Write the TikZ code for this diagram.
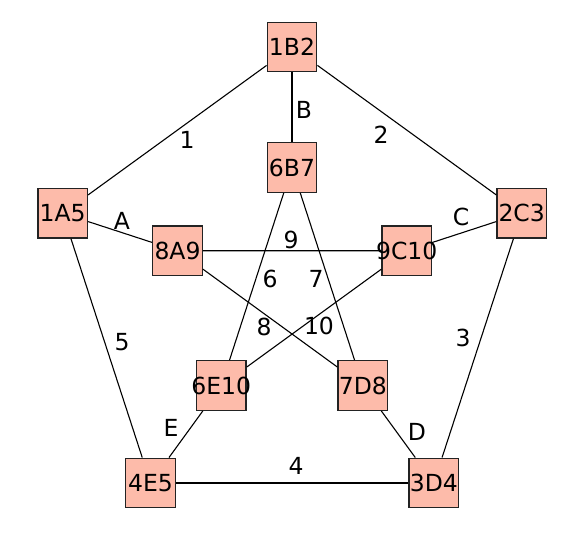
\documentclass[tikz,border=0pt]{standalone}
\usepackage{fontspec}
\setmainfont{DejaVu Sans}
\definecolor{boxfill}{RGB}{253,187,170}
\definecolor{boxline}{RGB}{35,35,35}
\begin{document}
\begin{tikzpicture}[x=1pt,y=1pt,
  vbox/.style={draw=boxline,fill=boxfill,line width=1.4pt,minimum size=49.5pt,inner sep=0pt},
  elab/.style={font=\fontsize{23.5}{23.5}\selectfont,inner sep=0pt},
  edge/.style={draw=black,line width=1.1pt}]
\useasboundingbox (0,0) rectangle (575,543);
% nodes (y = 543 - pixel y)
\node[vbox] (n1B2) at (292,496) {};
\node[vbox] (n6B7) at (292,375.5) {};
\node[vbox] (n1A5) at (62.7,329.7) {};
\node[vbox] (n2C3) at (521.7,329.7) {};
\node[vbox] (n8A9) at (177.5,292.3) {};
\node[vbox] (n9C10) at (406.7,292.2) {};
\node[vbox] (n6E10) at (221.3,157.5) {};
\node[vbox] (n7D8) at (362.8,157.5) {};
\node[vbox] (n4E5) at (150.5,60) {};
\node[vbox] (n3D4) at (433.8,60) {};
% edges
\draw[edge] (n1B2) -- (n1A5);
\draw[edge] (n1B2) -- (n2C3);
\draw[edge] (n1B2) -- (n6B7);
\draw[edge] (n1A5) -- (n8A9);
\draw[edge] (n2C3) -- (n9C10);
\draw[edge] (n8A9) -- (n9C10);
\draw[edge] (n6B7) -- (n6E10);
\draw[edge] (n6B7) -- (n7D8);
\draw[edge] (n8A9) -- (n7D8);
\draw[edge] (n9C10) -- (n6E10);
\draw[edge] (n1A5) -- (n4E5);
\draw[edge] (n2C3) -- (n3D4);
\draw[edge] (n4E5) -- (n6E10);
\draw[edge] (n3D4) -- (n7D8);
\draw[edge] (n4E5) -- (n3D4);
% node texts (on top of edges)
\node[elab] (t1B2) at (n1B2) {1B2};
\node[elab] (t6B7) at (n6B7) {6B7};
\node[elab] (t1A5) at (n1A5) {1A5};
\node[elab] (t2C3) at (n2C3) {2C3};
\node[elab] (t8A9) at (n8A9) {8A9};
\node[elab] (t9C10) at (n9C10) {9C10};
\node[elab] (t6E10) at (n6E10) {6E10};
\node[elab] (t7D8) at (n7D8) {7D8};
\node[elab] (t4E5) at (n4E5) {4E5};
\node[elab] (t3D4) at (n3D4) {3D4};
% edge labels
\node[elab] (l1) at (187,403) {1};
\node[elab] (l2) at (381,408) {2};
\node[elab] (lB) at (304,433) {B};
\node[elab] (lA) at (122,322) {A};
\node[elab] (lC) at (461,326) {C};
\node[elab] (l9) at (291,303) {9};
\node[elab] (l6) at (270,264) {6};
\node[elab] (l7) at (316,264) {7};
\node[elab] (l8) at (264,216) {8};
\node[elab] (l10) at (319,217) {10};
\node[elab] (l5) at (122,201) {5};
\node[elab] (l3) at (463,205) {3};
\node[elab] (lE) at (171,115) {E};
\node[elab] (lD) at (417,111) {D};
\node[elab] (l4) at (296,77) {4};
\end{tikzpicture}
\end{document}
